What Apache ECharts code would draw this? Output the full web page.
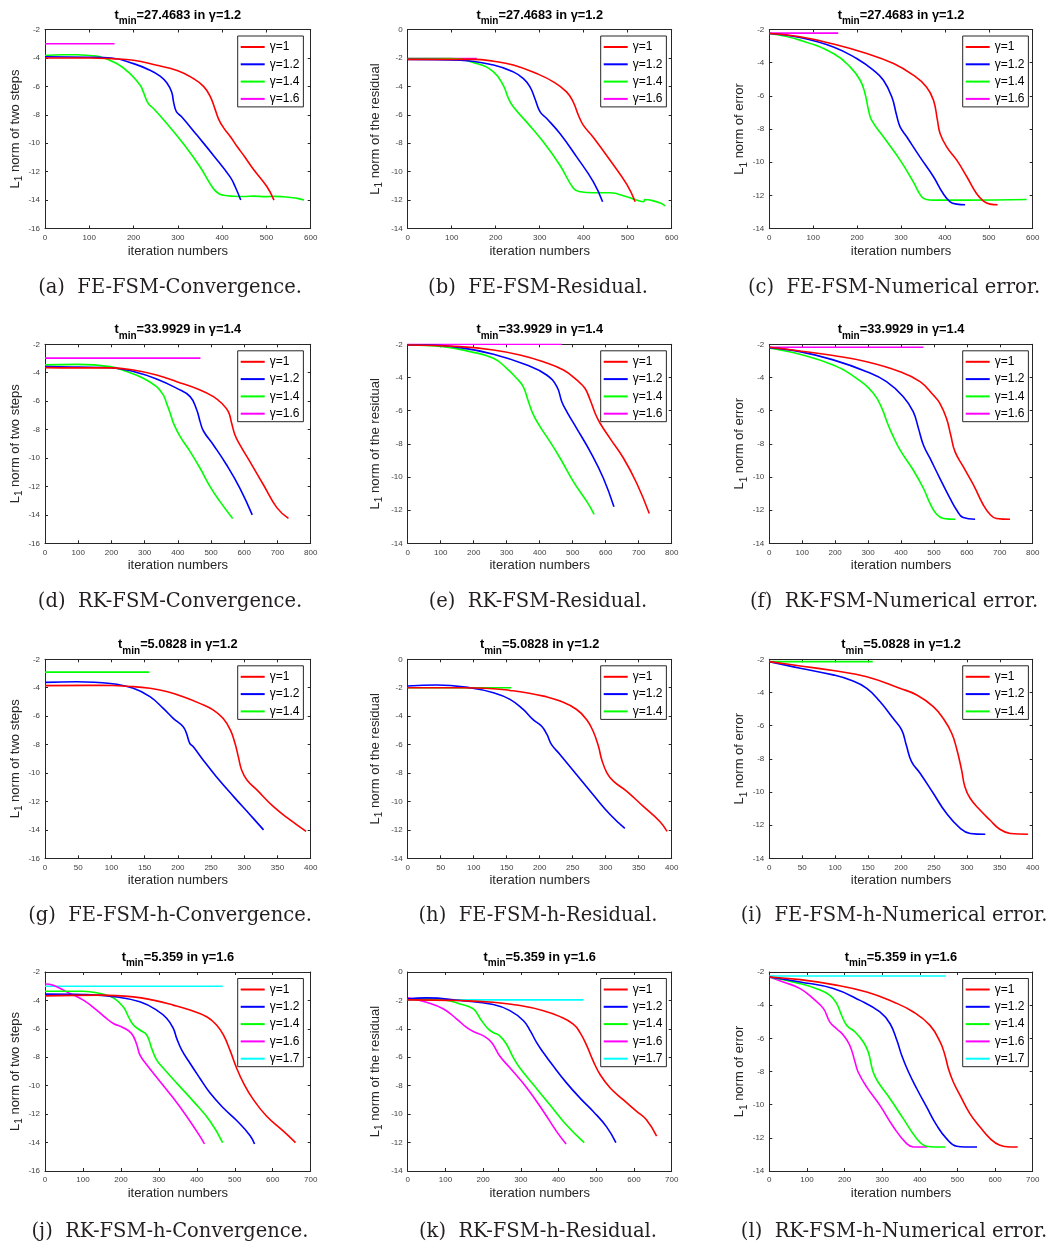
<!DOCTYPE html>
<html><head><meta charset="utf-8">
<script src="https://cdn.jsdelivr.net/npm/echarts@6/dist/echarts.min.js"></script>
<style>html,body{margin:0;padding:0;background:#fff}#c{width:1063px;height:1246px}</style>
</head><body><div id="c"></div>
<script>
// ---------- data (iteration number, log10 value) ----------
const gammaNames = ['γ=1','γ=1.2','γ=1.4','γ=1.6','γ=1.7'];
const gammaColors = ['#ff0000','#0000ff','#00ff00','#ff00ff','#00ffff'];

// (a) FE-FSM-Convergence
const aG10 = [[0,-4.0],[100,-4.0],[150,-4.05],[200,-4.16],[250,-4.5],[300,-4.9],[335,-5.45],[358,-6.0],[373,-6.7],[384,-7.6],[392,-8.3],[403,-8.9],[420,-9.6],[433,-10.2],[452,-11.0],[471,-11.85],[501,-13.05],[517,-14.0]];
const aG12 = [[0,-3.92],[100,-3.95],[150,-4.0],[200,-4.4],[237,-4.86],[260,-5.28],[275,-5.75],[286,-6.4],[291,-7.2],[297,-7.8],[309,-8.15],[343,-9.43],[380,-10.84],[418,-12.37],[430,-13.1],[442,-14.0]];
const aG14 = [[0,-3.83],[40,-3.78],[72,-3.78],[100,-3.83],[124,-3.92],[162,-4.39],[192,-5.1],[215,-5.92],[222,-6.39],[233,-7.2],[245,-7.56],[275,-8.61],[312,-10.02],[350,-11.66],[380,-13.19],[392,-13.54],[403,-13.66],[425,-13.73],[450,-13.75],[470,-13.72],[500,-13.76],[520,-13.74],[538,-13.77],[555,-13.82],[570,-13.88],[585,-14.0]];
const aG16 = [[0,-3.0],[157,-3.0]];
// (b) FE-FSM-Residual
const bG10 = [[0,-2.1],[150,-2.1],[195,-2.23],[240,-2.5],[293,-3.1],[331,-3.68],[361,-4.39],[376,-5.09],[388,-6.03],[399,-6.73],[422,-7.6],[460,-9.2],[498,-10.9],[517,-12.12]];
const bG12 = [[0,-2.1],[119,-2.16],[195,-2.5],[240,-2.98],[263,-3.45],[278,-4.03],[289,-4.85],[301,-5.79],[316,-6.26],[346,-7.32],[384,-8.96],[422,-10.72],[443,-12.12]];
const bG14 = [[0,-2.05],[96,-2.04],[157,-2.39],[195,-2.98],[217,-3.92],[229,-4.85],[240,-5.44],[270,-6.5],[308,-7.9],[346,-9.55],[377,-11.19],[392,-11.42],[422,-11.49],[460,-11.49],[498,-11.77],[520,-12.0],[536,-12.12],[539,-11.96],[551,-12.0],[574,-12.2],[585,-12.4]];
const bG16 = [[0,-2.04],[157,-2.04]];
// (c) FE-FSM-Numerical error
const cG10 = [[0,-2.24],[70,-2.44],[146,-2.88],[222,-3.45],[283,-4.05],[328,-4.75],[358,-5.46],[374,-6.26],[383,-7.47],[389,-8.27],[404,-9.08],[427,-9.88],[450,-10.88],[472,-11.89],[488,-12.35],[503,-12.53],[520,-12.57]];
const cG12 = [[0,-2.24],[70,-2.48],[146,-3.05],[199,-3.75],[237,-4.45],[260,-5.06],[279,-6.06],[290,-7.17],[298,-7.87],[313,-8.47],[343,-9.68],[374,-10.88],[396,-11.89],[412,-12.39],[427,-12.53],[446,-12.57]];
const cG14 = [[0,-2.24],[70,-2.64],[146,-3.45],[184,-4.25],[207,-5.06],[218,-5.86],[226,-6.86],[233,-7.47],[260,-8.47],[298,-9.88],[328,-11.19],[347,-12.09],[358,-12.25],[374,-12.29],[450,-12.29],[586,-12.25]];
const cG16 = [[0,-2.22],[157,-2.22]];
// (d) RK-FSM-Convergence
const dG10 = [[0,-3.64],[100,-3.66],[200,-3.66],[266,-3.81],[336,-4.16],[397,-4.63],[467,-5.21],[507,-5.68],[532,-6.15],[552,-6.74],[562,-7.56],[572,-8.38],[587,-9.08],[617,-10.26],[658,-11.9],[698,-13.49],[733,-14.25]];
const dG12 = [[0,-3.57],[100,-3.6],[200,-3.65],[266,-3.92],[336,-4.44],[397,-5.1],[437,-5.68],[457,-6.62],[467,-7.44],[477,-8.1],[507,-9.08],[547,-10.49],[587,-12.13],[624,-14.0]];
const dG14 = [[0,-3.45],[95,-3.41],[196,-3.57],[246,-3.92],[296,-4.39],[336,-4.98],[356,-5.56],[366,-6.15],[377,-6.85],[387,-7.56],[407,-8.5],[437,-9.55],[467,-10.72],[497,-12.01],[527,-13.07],[565,-14.25]];
const dG16 = [[0,-2.97],[468,-2.97]];
// (e) RK-FSM-Residual
const eG10 = [[0,-2.04],[159,-2.14],[260,-2.34],[340,-2.64],[411,-3.05],[472,-3.55],[512,-4.15],[537,-4.65],[553,-5.36],[568,-6.16],[583,-6.76],[613,-7.67],[654,-8.87],[694,-10.38],[732,-12.2]];
const eG12 = [[0,-2.04],[58,-2.04],[159,-2.2],[260,-2.6],[361,-3.25],[421,-3.85],[452,-4.55],[467,-5.46],[482,-6.06],[512,-7.07],[553,-8.47],[593,-10.08],[625,-11.8]];
const eG14 = [[0,-2.04],[108,-2.14],[189,-2.44],[260,-2.84],[300,-3.45],[330,-4.05],[350,-4.55],[366,-5.46],[381,-6.26],[401,-6.96],[431,-7.87],[462,-8.87],[502,-10.28],[543,-11.49],[565,-12.25]];
const eG16 = [[0,-2.0],[467,-2.0]];
// (f) RK-FSM-Numerical error
const fG10 = [[0,-2.18],[93,-2.4],[194,-2.68],[296,-3.05],[397,-3.65],[458,-4.25],[498,-5.06],[518,-5.56],[538,-6.46],[551,-7.47],[564,-8.47],[589,-9.38],[620,-10.48],[650,-11.69],[670,-12.25],[690,-12.5],[731,-12.55]];
const fG12 = [[0,-2.2],[93,-2.44],[194,-2.94],[296,-3.65],[356,-4.25],[407,-5.16],[437,-6.06],[453,-7.07],[468,-8.07],[488,-8.87],[518,-10.08],[549,-11.29],[569,-11.99],[589,-12.45],[625,-12.55]];
const fG14 = [[0,-2.22],[93,-2.6],[194,-3.25],[265,-4.05],[316,-4.95],[342,-5.86],[357,-6.66],[372,-7.37],[397,-8.37],[437,-9.58],[468,-10.68],[488,-11.59],[508,-12.25],[529,-12.5],[565,-12.55]];
const fG16 = [[0,-2.18],[468,-2.18]];
// (g) FE-FSM-h-Convergence
const gG10 = [[0,-3.85],[83,-3.83],[133,-3.92],[158,-4.04],[183,-4.27],[208,-4.63],[233,-5.1],[253,-5.56],[268,-6.15],[279,-6.97],[286,-7.91],[291,-8.85],[296,-9.79],[304,-10.49],[319,-11.19],[344,-12.37],[369,-13.3],[393,-14.1]];
const gG12 = [[0,-3.62],[48,-3.58],[98,-3.7],[133,-4.04],[158,-4.63],[178,-5.45],[193,-6.15],[208,-6.74],[213,-7.21],[218,-7.91],[223,-8.14],[238,-9.08],[258,-10.26],[284,-11.66],[309,-12.95],[329,-14.0]];
const gG14 = [[0,-2.9],[157,-2.9]];
// (h) FE-FSM-h-Residual
const hG10 = [[0,-2.0],[79,-2.0],[130,-2.07],[155,-2.19],[180,-2.35],[206,-2.59],[231,-2.94],[256,-3.53],[271,-4.24],[281,-5.06],[289,-6.12],[294,-7.06],[302,-8.0],[312,-8.59],[332,-9.29],[357,-10.35],[382,-11.41],[393,-12.1]];
const hG12 = [[0,-1.88],[44,-1.81],[94,-2.0],[130,-2.35],[155,-2.82],[175,-3.53],[190,-4.24],[203,-4.71],[211,-5.29],[218,-6.0],[231,-6.71],[256,-8.12],[281,-9.53],[307,-10.94],[329,-11.9]];
const hG14 = [[0,-2.0],[157,-2.0]];
// (i) FE-FSM-h-Numerical error
const iG10 = [[0,-2.14],[47,-2.4],[97,-2.68],[148,-3.05],[198,-3.75],[224,-4.15],[249,-4.85],[264,-5.56],[277,-6.46],[285,-7.47],[292,-8.67],[297,-9.68],[305,-10.38],[320,-11.09],[335,-11.69],[350,-12.25],[366,-12.5],[393,-12.55]];
const iG12 = [[0,-2.14],[47,-2.54],[97,-2.94],[123,-3.25],[148,-3.75],[168,-4.55],[188,-5.56],[201,-6.26],[208,-7.17],[216,-8.17],[229,-8.87],[249,-10.08],[269,-11.29],[290,-12.19],[305,-12.5],[328,-12.55]];
const iG14 = [[0,-2.14],[157,-2.14]];
// (j) RK-FSM-h-Convergence
const jG10 = [[0,-3.68],[145,-3.63],[233,-3.75],[285,-3.98],[338,-4.33],[382,-4.68],[426,-5.15],[452,-5.73],[470,-6.43],[487,-7.48],[505,-8.77],[523,-9.82],[549,-10.98],[584,-12.15],[628,-13.2],[660,-14.0]];
const jG12 = [[0,-3.56],[101,-3.59],[189,-3.75],[250,-4.1],[294,-4.68],[321,-5.27],[338,-5.97],[347,-6.67],[360,-7.48],[382,-8.42],[408,-9.47],[435,-10.52],[470,-11.57],[505,-12.45],[540,-13.5],[552,-14.1]];
const jG14 = [[0,-3.35],[101,-3.35],[145,-3.52],[180,-3.82],[206,-4.45],[220,-5.15],[233,-5.73],[250,-6.08],[268,-6.43],[281,-7.37],[294,-8.18],[312,-8.77],[347,-9.82],[391,-11.1],[435,-12.5],[468,-14.0]];
const jG16 = [[0,-2.84],[22,-2.93],[57,-3.4],[101,-3.98],[136,-4.68],[162,-5.27],[180,-5.62],[206,-5.92],[228,-6.32],[242,-7.13],[250,-7.83],[268,-8.53],[303,-9.7],[338,-10.87],[373,-12.15],[408,-13.55],[420,-14.1]];
const jG17 = [[0,-3.0],[468,-3.0]];
// (k) RK-FSM-h-Residual
const kG10 = [[0,-1.96],[139,-2.01],[227,-2.13],[298,-2.36],[360,-2.72],[404,-3.14],[439,-3.67],[457,-4.26],[475,-5.2],[492,-6.27],[510,-7.21],[537,-8.16],[572,-9.0],[607,-9.8],[633,-10.4],[660,-11.55]];
const kG12 = [[0,-1.89],[50,-1.82],[139,-2.01],[227,-2.29],[271,-2.72],[307,-3.43],[325,-4.14],[342,-4.97],[360,-5.68],[386,-6.62],[421,-7.8],[457,-8.87],[492,-9.81],[527,-10.88],[552,-12.0]];
const kG14 = [[0,-1.89],[95,-1.96],[139,-2.25],[174,-2.6],[196,-3.43],[214,-4.02],[227,-4.26],[244,-4.49],[262,-5.08],[280,-6.03],[297,-6.74],[333,-7.92],[377,-9.34],[421,-10.76],[468,-12.0]];
const kG16 = [[0,-1.82],[50,-2.13],[95,-2.6],[130,-3.31],[156,-3.9],[174,-4.19],[201,-4.49],[223,-4.97],[244,-5.91],[271,-6.74],[316,-8.16],[360,-9.81],[395,-11.23],[420,-12.1]];
const kG17 = [[0,-1.96],[466,-1.96]];
// (l) RK-FSM-h-Numerical error
const lG10 = [[0,-2.3],[82,-2.46],[170,-2.76],[259,-3.21],[330,-3.81],[383,-4.41],[427,-5.22],[454,-6.22],[467,-7.03],[476,-7.83],[489,-8.63],[507,-9.44],[533,-10.54],[560,-11.35],[587,-12.05],[613,-12.45],[640,-12.55],[660,-12.55]];
const lG12 = [[0,-2.3],[82,-2.6],[170,-3.0],[241,-3.71],[294,-4.41],[321,-5.12],[339,-6.12],[352,-7.03],[370,-8.03],[392,-9.04],[418,-10.14],[445,-11.25],[471,-12.05],[498,-12.51],[520,-12.55],[552,-12.55]];
const lG14 = [[0,-2.3],[82,-2.7],[126,-3.01],[161,-3.41],[179,-3.91],[192,-4.61],[206,-5.22],[228,-5.62],[250,-6.22],[263,-6.83],[276,-8.03],[289,-8.63],[321,-9.64],[356,-10.84],[392,-12.05],[418,-12.51],[440,-12.55],[468,-12.55]];
const lG16 = [[0,-2.3],[37,-2.6],[82,-3.0],[117,-3.61],[144,-4.21],[161,-5.02],[179,-5.42],[197,-5.82],[214,-6.43],[228,-7.44],[236,-8.03],[259,-8.94],[294,-10.04],[330,-11.35],[365,-12.35],[383,-12.55],[420,-12.55]];
const lG17 = [[0,-2.24],[469,-2.24]];

// axis ranges / labels
const xMaxes = [600,600,600, 800,800,800, 400,400,400, 700,700,700];
const xSteps = [100,100,100, 100,100,100, 50,50,50, 100,100,100];
const yMins  = [-16,-14,-14, -16,-14,-14, -16,-14,-14, -16,-14,-14];
const yMaxs  = [-2,0,-2, -2,-2,-2, -2,0,-2, -2,0,-2];
const tminVals = ['27.4683','33.9929','5.0828','5.359'];
const tminGammas = ['1.2','1.4','1.2','1.6'];
const yNames = ['two steps','the residual','error'];
const captions = ['(a)  FE-FSM-Convergence.','(b)  FE-FSM-Residual.','(c)  FE-FSM-Numerical error.',
  '(d)  RK-FSM-Convergence.','(e)  RK-FSM-Residual.','(f)  RK-FSM-Numerical error.',
  '(g)  FE-FSM-h-Convergence.','(h)  FE-FSM-h-Residual.','(i)  FE-FSM-h-Numerical error.',
  '(j)  RK-FSM-h-Convergence.','(k)  RK-FSM-h-Residual.','(l)  RK-FSM-h-Numerical error.'];
const panelSeries = [
  [aG10,aG12,aG14,aG16],[bG10,bG12,bG14,bG16],[cG10,cG12,cG14,cG16],
  [dG10,dG12,dG14,dG16],[eG10,eG12,eG14,eG16],[fG10,fG12,fG14,fG16],
  [gG10,gG12,gG14],[hG10,hG12,hG14],[iG10,iG12,iG14],
  [jG10,jG12,jG14,jG16,jG17],[kG10,kG12,kG14,kG16,kG17],[lG10,lG12,lG14,lG16,lG17]
];

// ---------- layout ----------
const FONT = '"Liberation Sans", Arial, sans-serif';
const colLeft = [45, 407.7, 769.3];
const colW = [265.7, 264, 263.4];
const rowTop = [29.5, 344.3, 659.3, 972];
const plotH = 199;
const yGap = [21, 25, 20];
const legLeft = [237.7, 600.7, 962.7];
const legTopOff = 6.5;
const capX = [170, 538, 894];
const capY = [288, 602, 916, 1232];
const AX = '#262626';

const grid=[], xAxis=[], yAxis=[], series=[], legend=[], graphic=[];
for (let i=0;i<12;i++){
  const r = Math.floor(i/3), c = i%3;
  grid.push({left:colLeft[c], top:rowTop[r], width:colW[c], height:plotH, containLabel:false});
  const lineS = {show:true,onZero:false,lineStyle:{color:AX,width:1}};
  const tickS = {show:true,inside:true,length:3,lineStyle:{color:AX,width:1}};
  xAxis.push({gridIndex:i,type:'value',position:'bottom',min:0,max:xMaxes[i],interval:xSteps[i],
    axisLine:lineS,axisTick:tickS,splitLine:{show:false},
    axisLabel:{fontSize:8,color:'#404040',margin:5,fontFamily:FONT},
    name:'iteration numbers',nameLocation:'middle',nameGap:16,
    nameTextStyle:{fontSize:13,color:AX,fontFamily:FONT}});
  xAxis.push({gridIndex:i,type:'value',position:'top',min:0,max:xMaxes[i],interval:xSteps[i],
    axisLine:lineS,axisTick:tickS,splitLine:{show:false},axisLabel:{show:false}});
  yAxis.push({gridIndex:i,type:'value',position:'left',min:yMins[i],max:yMaxs[i],interval:2,
    axisLine:lineS,axisTick:tickS,splitLine:{show:false},
    axisLabel:{fontSize:8,color:'#404040',margin:5,fontFamily:FONT},
    name:'{m|L}{s|1}{m| norm of '+yNames[c]+'}',nameLocation:'middle',nameGap:yGap[c],nameRotate:90,
    nameTextStyle:{fontSize:13,color:AX,fontFamily:FONT,
      rich:{m:{fontSize:13,color:AX,fontFamily:FONT,lineHeight:15},
            s:{fontSize:10,color:AX,fontFamily:FONT,lineHeight:10,padding:[9,0,0,0]}}}});
  yAxis.push({gridIndex:i,type:'value',position:'right',min:yMins[i],max:yMaxs[i],interval:2,
    axisLine:lineS,axisTick:tickS,splitLine:{show:false},axisLabel:{show:false}});
  const names=[];
  panelSeries[i].forEach((d,k)=>{
    names.push(gammaNames[k]);
    series.push({type:'line',name:gammaNames[k],data:d,xAxisIndex:2*i,yAxisIndex:2*i,
      symbol:'none',showSymbol:false,smooth:0.45,
      color:gammaColors[k],lineStyle:{width:1.6,color:gammaColors[k]},
      animation:false,silent:true,z:3+(panelSeries[i].length-k)});
  });
  legend.push({orient:'vertical',left:legLeft[c],top:rowTop[r]+legTopOff,data:names,
    icon:'rect',itemWidth:24,itemHeight:2,itemGap:3.3,padding:[4,4,1,3],
    backgroundColor:'#fff',borderColor:AX,borderWidth:1,borderRadius:0,selectedMode:false,
    textStyle:{fontSize:12,color:'#000',fontFamily:FONT,lineHeight:14}});
  // title
  graphic.push({type:'text',x:colLeft[c]+colW[c]/2,y:rowTop[r]-14.5,silent:true,
    style:{text:'{t|t}{s|min}{t|='+tminVals[r]+' in γ='+tminGammas[r]+'}',
      align:'center',verticalAlign:'middle',
      rich:{t:{fontSize:12.8,fontWeight:'bold',fontFamily:FONT,fill:'#000',lineHeight:15},
            s:{fontSize:10,fontWeight:'bold',fontFamily:FONT,fill:'#000',lineHeight:10,padding:[12,0,0,0]}}}});
  // caption
  graphic.push({type:'text',x:capX[c],y:capY[r],silent:true,
    style:{text:captions[i],align:'center',verticalAlign:'middle',
      font:'19.5px "DejaVu Serif", serif',fill:'#231f20'}});
}

const chart = echarts.init(document.getElementById('c'),null,{renderer:'canvas'});
chart.setOption({animation:false,backgroundColor:'#fff',grid,xAxis,yAxis,series,legend,graphic});
</script></body></html>
